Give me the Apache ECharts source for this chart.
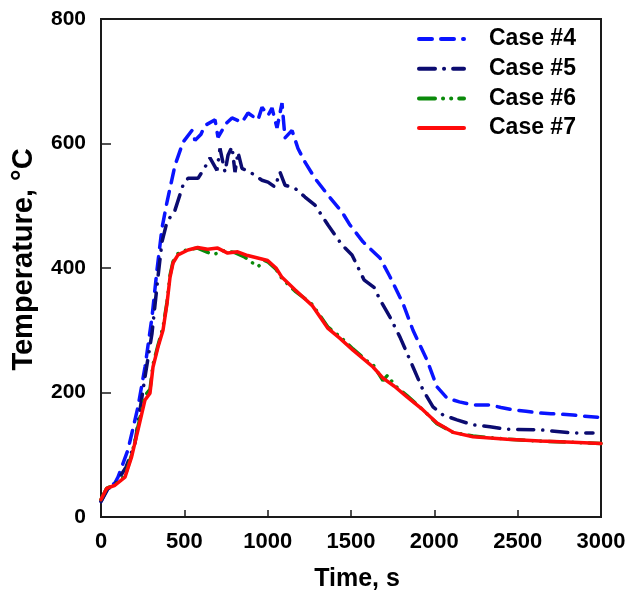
<!DOCTYPE html>
<html>
<head>
<meta charset="utf-8">
<script src="https://cdn.jsdelivr.net/npm/echarts@6/dist/echarts.min.js"></script>
<style>
  html, body { margin: 0; padding: 0; background: #fff; }
  #chart { width: 630px; height: 604px; }
</style>
</head>
<body>
<div id="chart"></div>
<script>
// --- data (time in s, temperature in °C) ---
var names = ['Case #4', 'Case #5', 'Case #6', 'Case #7'];

var time4 = [0, 40, 84, 102, 162, 222, 264, 306, 336, 366, 396, 444, 492, 546, 564, 600, 624, 684, 702, 750, 786, 846, 882, 942, 966, 1002, 1026, 1056, 1086, 1104, 1146, 1182, 1224, 1284, 1362, 1446, 1494, 1572, 1674, 1734, 1812, 1872, 1956, 2016, 2076, 2150, 2232, 2334, 2400, 2472, 2550, 2634, 2700, 2832, 2900, 3000];
var temp4 = [25, 45, 55, 64, 108, 177, 241, 321, 397, 464, 506, 565, 602, 621, 605, 615, 629, 638, 610, 632, 641, 634, 649, 638, 658, 645, 657, 625, 665, 609, 621, 592, 570, 544, 517, 490, 469, 442, 416, 386, 343, 300, 252, 209, 191, 185, 180, 180, 176, 172, 170, 167, 166, 164, 162, 160];

var time5 = [0, 40, 84, 150, 204, 264, 306, 342, 366, 396, 444, 492, 522, 582, 624, 654, 696, 714, 744, 762, 786, 804, 822, 846, 906, 966, 1002, 1044, 1074, 1104, 1164, 1224, 1284, 1362, 1446, 1506, 1578, 1638, 1674, 1734, 1794, 1872, 1932, 1992, 2052, 2136, 2232, 2334, 2436, 2634, 2832, 2952];
var temp5 = [25, 45, 52, 80, 119, 225, 295, 386, 442, 474, 493, 533, 544, 544, 562, 577, 557, 592, 554, 581, 595, 554, 586, 560, 552, 541, 538, 530, 554, 533, 528, 514, 501, 469, 437, 421, 381, 369, 349, 321, 289, 241, 204, 177, 164, 156, 148, 145, 141, 140, 135, 135];

var time6 = [0, 34, 84, 144, 184, 222, 264, 294, 312, 342, 372, 396, 414, 432, 462, 522, 580, 640, 680, 740, 800, 860, 900, 942, 980, 1000, 1050, 1086, 1164, 1266, 1362, 1434, 1512, 1600, 1632, 1692, 1720, 1760, 1836, 1932, 2016, 2112, 2232, 2436, 2634, 2832, 3000];
var temp6 = [28, 46, 52, 66, 100, 145, 195, 205, 245, 276, 305, 345, 388, 410, 423, 430, 432, 425, 422, 428, 425, 418, 410, 402, 412, 410, 398, 383, 363, 342, 305, 290, 270, 250, 245, 219, 228, 212, 195, 172, 150, 136, 130, 125, 122, 120, 118];

var time7 = [0, 34, 84, 144, 184, 222, 264, 294, 312, 342, 372, 396, 414, 432, 462, 522, 580, 640, 700, 760, 820, 880, 940, 1000, 1050, 1086, 1164, 1266, 1362, 1434, 1512, 1632, 1692, 1760, 1836, 1932, 2016, 2112, 2232, 2436, 2634, 2832, 3000];
var temp7 = [28, 46, 51, 64, 97, 140, 188, 199, 241, 273, 300, 343, 385, 408, 421, 429, 433, 430, 432, 424, 426, 420, 416, 412, 400, 385, 365, 340, 303, 287, 268, 241, 223, 210, 193, 172, 151, 136, 129, 125, 122, 120, 118];

function pairs(t, v) {
  return t.map(function (x, i) { return [x, v[i]]; });
}

var font = 'Arial, "Liberation Sans", sans-serif';
var chart = echarts.init(document.getElementById('chart'), null, { renderer: 'canvas' });

function lineSeries(name, data, color, dash) {
  return {
    name: name, type: 'line', data: data, showSymbol: false, symbol: 'none',
    lineStyle: { color: color, width: 3.5, type: dash, cap: 'round' },
    itemStyle: { color: color },
    z: 3
  };
}

function plain(v) { return String(v); }

chart.setOption({
  animation: false,
  backgroundColor: '#fff',
  grid: { left: 101, right: 29, top: 19, bottom: 87, show: true, borderColor: '#1a1a1a', borderWidth: 2 },
  legend: {
    orient: 'vertical', left: 412, top: 22, itemWidth: 45, itemHeight: 24, itemGap: 5.7,
    itemStyle: { opacity: 0 },
    lineStyle: { width: 4 },
    textStyle: { fontFamily: font, fontWeight: 'bold', fontSize: 23, lineHeight: 24, color: '#000', padding: [0, 0, 0, 20] },
    data: names
  },
  xAxis: {
    type: 'value', min: 0, max: 3000, interval: 500,
    name: 'Time, s', nameLocation: 'middle', nameGap: 50,
    nameTextStyle: { fontFamily: font, fontWeight: 'bold', fontSize: 25, color: '#000', padding: [0, 0, 0, 12] },
    axisLine: { lineStyle: { color: '#1a1a1a', width: 2 } },
    axisTick: { inside: true, length: 7, lineStyle: { color: '#1a1a1a', width: 1.5 } },
    axisLabel: { fontFamily: font, fontWeight: 'bold', fontSize: 22, color: '#000', margin: 14, formatter: plain },
    splitLine: { show: false }
  },
  yAxis: {
    type: 'value', min: 0, max: 800, interval: 200,
    name: 'Temperature, °C', nameLocation: 'middle', nameGap: 63,
    nameTextStyle: { fontFamily: font, fontWeight: 'bold', fontSize: 29, color: '#000', padding: [0, 0, 0, 17] },
    axisLine: { lineStyle: { color: '#1a1a1a', width: 2 } },
    axisTick: { inside: true, length: 10, lineStyle: { color: '#1a1a1a', width: 1.5 } },
    axisLabel: { fontFamily: font, fontWeight: 'bold', fontSize: 21, color: '#000', margin: 15, formatter: plain },
    splitLine: { show: false }
  },
  series: [
    lineSeries(names[0], pairs(time4, temp4), '#0a14ff', [13, 9]),
    lineSeries(names[1], pairs(time5, temp5), '#0b0b70', [16, 9, 0.1, 9]),
    lineSeries(names[2], pairs(time6, temp6), '#0a8a0a', [16, 8, 0.1, 8, 0.1, 8]),
    lineSeries(names[3], pairs(time7, temp7), '#ff0a0a', 'solid')
  ]
});
</script>
</body>
</html>
